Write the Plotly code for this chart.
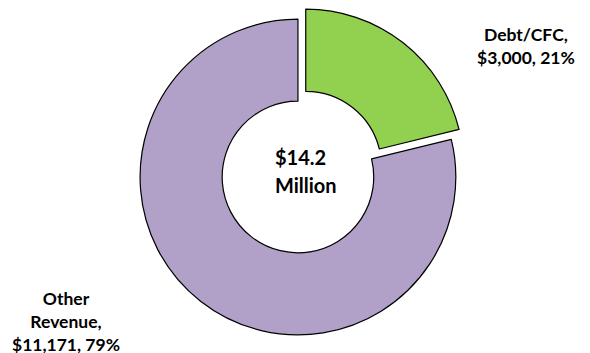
import plotly.graph_objects as go

categories = ["Debt/CFC", "Other Revenue"]
display_names = ["Debt/CFC", "Other<br>Revenue"]
values = [3000, 11171]
colors = ["#92D050", "#B1A0C7"]
pulls = [0.08, 0]
center_lines = ["$14.2", "Million"]

total = sum(values)
pcts = [round(v / total * 100) for v in values]
label_texts = [f"{n},<br>${v:,}, {p}%" for n, v, p in zip(display_names, values, pcts)]

FONT = "Lato"

fig = go.Figure(go.Pie(
    labels=categories,
    values=values,
    hole=0.48,
    sort=False,
    direction="clockwise",
    rotation=0,
    pull=pulls,
    marker=dict(colors=colors, line=dict(color="black", width=1.2)),
    textinfo="none",
    hoverinfo="none",
    showlegend=False,
    domain=dict(x=[0.216, 0.794], y=[0.0156, 0.9816]),
))

label_pos = [(526, 46), (66, 321)]
annotations = []
for txt, (px, py) in zip(label_texts, label_pos):
    annotations.append(dict(
        x=px / 590, y=1 - py / 353, xref="paper", yref="paper",
        text=f"<b>{txt}</b>", showarrow=False, align="center",
        font=dict(family=FONT, size=17.5, color="black"),
        xanchor="center", yanchor="middle",
    ))

center_pos = [(273, 157), (273, 185)]
for txt, (px, py) in zip(center_lines, center_pos):
    annotations.append(dict(
        x=px / 590, y=1 - py / 353, xref="paper", yref="paper",
        text=f"<b>{txt}</b>", showarrow=False, align="left",
        font=dict(family=FONT, size=20, color="black"),
        xanchor="left", yanchor="middle",
    ))

fig.update_layout(
    width=590, height=353,
    margin=dict(l=0, r=0, t=0, b=0),
    paper_bgcolor="white", plot_bgcolor="white",
    annotations=annotations,
)

fig.write_html("out.html")
